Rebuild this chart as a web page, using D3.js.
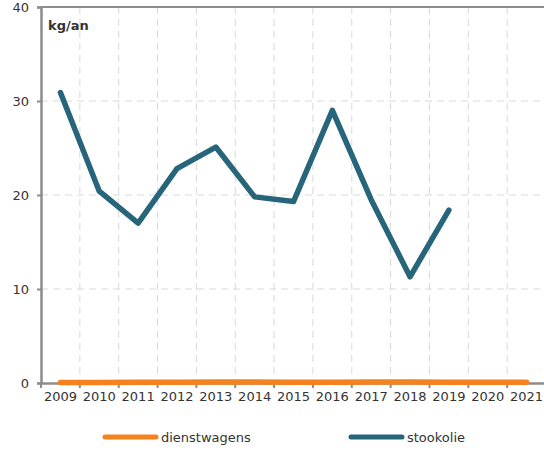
<!DOCTYPE html>
<html>
<head>
<meta charset="utf-8">
<script src="https://cdn.jsdelivr.net/npm/d3@7"></script>
<style>
  body { margin: 0; background: #fff; }
  svg text { font-family: "DejaVu Sans", sans-serif; fill: #333; }
</style>
</head>
<body>
<div id="chart"></div>
<script>
// years on the x axis
var years = ["2009","2010","2011","2012","2013","2014","2015","2016","2017","2018","2019","2020","2021"];
// kg/an
var dienstwagens = [0.05,0.06,0.07,0.08,0.1,0.1,0.09,0.08,0.1,0.1,0.08,0.09,0.08];
var stookolie = [30.9,20.4,17.0,22.8,25.1,19.8,19.3,29.0,19.5,11.3,18.4,null,null];
var yTicks = [0,10,20,30,40];

var width = 544, height = 450;
var margin = { top: 7, right: -2, bottom: 67, left: 41 };
var w = width - margin.left - margin.right,
    h = height - margin.top - margin.bottom;

var svg = d3.select("#chart").append("svg")
    .attr("width", width)
    .attr("height", height)
    .append("g")
    .attr("transform", "translate(" + margin.left + "," + margin.top + ")");

var x = d3.scaleBand().domain(years).range([0, w]);
var y = d3.scaleLinear().domain([0, 40]).range([h, 0]);

// dashed grid
svg.selectAll(".hgrid").data(yTicks.filter(function (d) { return d > 0 && d < 40; }))
    .enter().append("line")
    .attr("x1", 0).attr("x2", w)
    .attr("y1", function (d) { return y(d); }).attr("y2", function (d) { return y(d); })
    .attr("stroke", "#d9d9d9").attr("stroke-dasharray", "7,5");

svg.selectAll(".vgrid").data(years.slice(1))
    .enter().append("line")
    .attr("x1", function (d) { return x(d); }).attr("x2", function (d) { return x(d); })
    .attr("y1", 0).attr("y2", h)
    .attr("stroke", "#d9d9d9").attr("stroke-dasharray", "7,5");

// top border
svg.append("line").attr("x1", 0).attr("x2", w).attr("y1", 0).attr("y2", 0)
    .attr("stroke", "#8c8c8c").attr("stroke-width", 2);

// y axis
var yAxis = svg.append("g")
    .call(d3.axisLeft(y).tickValues(yTicks).tickSize(4).tickPadding(8));
yAxis.select(".domain").attr("stroke", "#8c8c8c").attr("stroke-width", 2.5);
yAxis.selectAll(".tick line").attr("stroke", "#8c8c8c").attr("stroke-width", 2);
yAxis.selectAll("text").style("font-size", "13px").attr("fill", "#333");

// x axis, ticks on band boundaries
var xAxis = svg.append("g")
    .attr("transform", "translate(0," + h + ")")
    .call(d3.axisBottom(x).tickSize(0).tickPadding(9));
xAxis.select(".domain").attr("stroke", "#8c8c8c").attr("stroke-width", 2.5);
xAxis.selectAll("text").style("font-size", "13px").attr("fill", "#333");
svg.selectAll(".xtick").data(years)
    .enter().append("line")
    .attr("x1", function (d) { return x(d); }).attr("x2", function (d) { return x(d); })
    .attr("y1", h).attr("y2", h + 5)
    .attr("stroke", "#8c8c8c").attr("stroke-width", 2);

svg.append("text")
    .attr("x", 7).attr("y", 23)
    .style("font-size", "13px").style("font-weight", "bold")
    .text("kg/an");

var line = d3.line()
    .defined(function (d) { return d != null; })
    .x(function (d, i) { return x(years[i]) + x.bandwidth() / 2; })
    .y(function (d) { return y(d); });

svg.append("path").datum(dienstwagens)
    .attr("fill", "none").attr("stroke", "#f5821f").attr("stroke-width", 5.5)
    .attr("stroke-linecap", "round").attr("stroke-linejoin", "round")
    .attr("d", line);

svg.append("path").datum(stookolie)
    .attr("fill", "none").attr("stroke", "#27657b").attr("stroke-width", 5.5)
    .attr("stroke-linecap", "round").attr("stroke-linejoin", "round")
    .attr("d", line);

// legend
var legend = d3.select("svg").append("g");
var items = [
    { name: "dienstwagens", color: "#f5821f", x: 105 },
    { name: "stookolie", color: "#27657b", x: 351 }
];
items.forEach(function (it) {
    legend.append("line")
        .attr("x1", it.x).attr("x2", it.x + 51).attr("y1", 437).attr("y2", 437)
        .attr("stroke", it.color).attr("stroke-width", 5).attr("stroke-linecap", "round");
    legend.append("text")
        .attr("x", it.x + 56).attr("y", 442)
        .style("font-size", "13px")
        .text(it.name);
});
</script>
</body>
</html>
